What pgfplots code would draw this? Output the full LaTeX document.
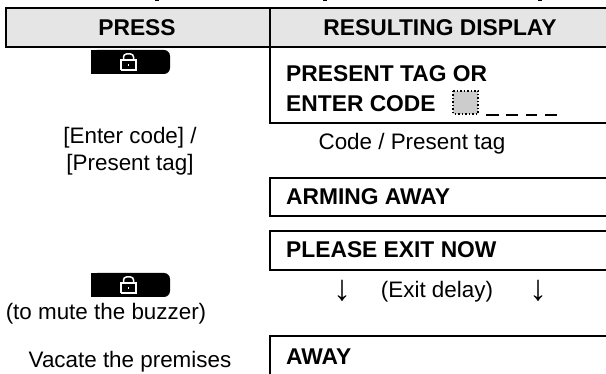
\documentclass[border=0pt]{standalone}
\usepackage{pgfplots}
\pgfplotsset{compat=1.18}
\usepackage{fontspec}
\setmainfont{Liberation Sans}
\tikzset{
  lab/.style={font=\fontsize{22.4}{24}\selectfont,text=black,inner sep=0pt},
  bol/.style={font=\fontsize{22.8}{24}\selectfont\bfseries,text=black,inner sep=0pt},
}
\begin{document}
\begin{tikzpicture}
\begin{axis}[
  at={(0,0)},anchor=south west,
  scale only axis,width=606pt,height=374pt,
  xmin=0,xmax=606,ymin=0,ymax=374,y dir=reverse,
  hide axis,clip=true,
  every axis plot/.append style={no markers},
]
% header fill
\addplot[fill=black!10,draw=none] coordinates {(6,8) (606,8) (606,47) (6,47)} -- cycle;
% boxes
\addplot[black,line width=2pt] coordinates {(606,8) (6,8) (6,47) (606,47)};
\addplot[black,line width=2pt] coordinates {(270,8) (270,123) (606,123)};
\addplot[black,line width=2pt] coordinates {(606,178) (270,178) (270,216) (606,216)};
\addplot[black,line width=2pt] coordinates {(606,231) (270,231) (270,270) (606,270)};
\addplot[black,line width=2pt] coordinates {(606,336) (270,336) (270,374)};
% buttons
\addplot[fill=black,draw=none,rounded corners=6pt] coordinates {(91,50) (170,50) (170,74) (91,74)} -- cycle;
\addplot[fill=black,draw=none] coordinates {(91,50) (110,50) (110,74) (91,74)} -- cycle;
\addplot[fill=black,draw=none,rounded corners=6pt] coordinates {(91,273) (170,273) (170,297) (91,297)} -- cycle;
\addplot[fill=black,draw=none] coordinates {(91,273) (110,273) (110,297) (91,297)} -- cycle;
% locks
\addplot[white,line width=1.5pt] coordinates {(121,70) (121,60) (136,60) (136,70) (121,70)};
\addplot[white,line width=1.5pt,rounded corners=3pt] coordinates {(123.5,60) (123.5,54) (133.5,54) (133.5,60)};
\addplot[white,line width=1.5pt] coordinates {(128.5,64) (128.5,66)};
\addplot[white,line width=1.5pt] coordinates {(121,293) (121,283) (136,283) (136,293) (121,293)};
\addplot[white,line width=1.5pt,rounded corners=3pt] coordinates {(123.5,283) (123.5,277) (133.5,277) (133.5,283)};
\addplot[white,line width=1.5pt] coordinates {(128.5,287) (128.5,289)};
% tag square
\addplot[fill=black!20,draw=black,line width=1.5pt,dotted] coordinates {(453,91) (478,91) (478,114) (453,114)} -- cycle;
% underscores
\addplot[black,line width=1.2pt] coordinates {(486,115) (499,115)};
\addplot[black,line width=1.2pt] coordinates {(506,115) (518,115)};
\addplot[black,line width=1.2pt] coordinates {(526,115) (537,115)};
\addplot[black,line width=1.2pt] coordinates {(545,115) (557,115)};
% clipped descenders of the line above
\addplot[black,line width=1.5pt] coordinates {(155,0) (159,0)};
\addplot[black,line width=1.5pt] coordinates {(323,0) (327,0)};
\addplot[black,line width=1.5pt] coordinates {(538,0) (542,0)};
% text
\node[bol] at (axis cs:137,28) {PRESS};
\node[bol] at (axis cs:440,28) {RESULTING DISPLAY};
\node[bol,anchor=west] at (axis cs:286,74) {PRESENT TAG OR};
\node[bol,anchor=west] at (axis cs:286,104) {ENTER CODE};
\node[lab] at (axis cs:130,138) {[Enter code] /};
\node[lab] at (axis cs:130,165) {[Present tag]};
\node[lab] at (axis cs:412,144) {Code / Present tag};
\node[bol,anchor=west] at (axis cs:286,197) {ARMING AWAY};
\node[bol,anchor=west] at (axis cs:286,250) {PLEASE EXIT NOW};
\node[font=\fontsize{36}{38}\selectfont,inner sep=0pt] at (axis cs:342,291) {↓};
\node[lab] at (axis cs:437,292) {(Exit delay)};
\node[font=\fontsize{36}{38}\selectfont,inner sep=0pt] at (axis cs:538,291) {↓};
\node[lab] at (axis cs:106,314) {(to mute the buzzer)};
\node[lab] at (axis cs:130,362) {Vacate the premises};
\node[bol,anchor=west] at (axis cs:286,357) {AWAY};
\end{axis}
\pgfresetboundingbox
\path[use as bounding box] (0,0) rectangle (606pt,374pt);
\end{tikzpicture}
\end{document}
